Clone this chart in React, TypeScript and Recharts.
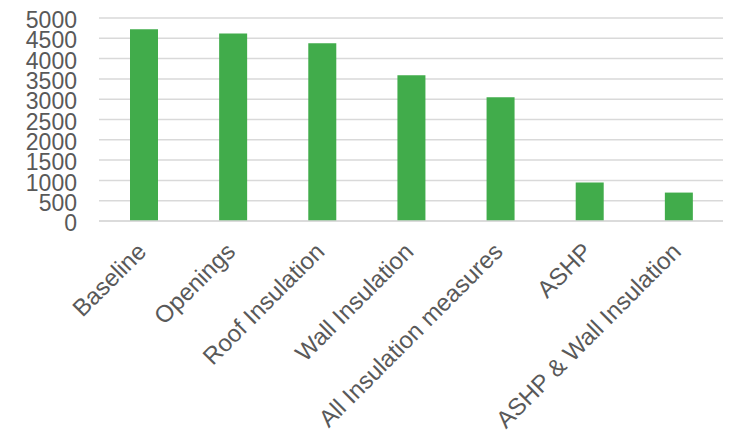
import React from 'react';
import { BarChart, Bar, XAxis, YAxis, CartesianGrid } from 'recharts';

const categories = [
  'Baseline',
  'Openings',
  'Roof Insulation',
  'Wall Insulation',
  'All Insulation measures',
  'ASHP',
  'ASHP & Wall Insulation',
];
const values = [4720, 4620, 4380, 3590, 3050, 950, 700];
const yTicks = [0, 500, 1000, 1500, 2000, 2500, 3000, 3500, 4000, 4500, 5000];

const data = categories.map((name, i) => ({ name, value: values[i] }));

const FONT = '"Liberation Sans", Arial, sans-serif';
const TEXT = '#595959';

function RotatedTick(props: any) {
  const { x, y, payload } = props;
  return (
    <g transform={`translate(${x + 4},${y + 32})`}>
      <text
        x={0}
        y={0}
        textAnchor="end"
        transform="rotate(-45)"
        fill={TEXT}
        fontSize={24}
        fontFamily={FONT}
      >
        {payload.value}
      </text>
    </g>
  );
}

export default function App() {
  return (
    <div style={{ position: 'absolute', left: 0, top: 0, background: '#fff' }}>
      <BarChart
        width={736}
        height={432}
        data={data}
        margin={{ top: 18, right: 13, left: 0, bottom: 0 }}
        barSize={28}
      >
        <CartesianGrid vertical={false} stroke="#d9d9d9" strokeWidth={1.5} />
        <XAxis
          dataKey="name"
          interval={0}
          height={211}
          tickLine={false}
          axisLine={{ stroke: '#d9d9d9', strokeWidth: 1.5 }}
          tickSize={0}
          tickMargin={0}
          tick={<RotatedTick />}
        />
        <YAxis
          width={99}
          domain={[0, 5000]}
          ticks={yTicks}
          interval={0}
          tickLine={false}
          axisLine={false}
          tickSize={0}
          tickMargin={22}
          tick={{ fill: TEXT, fontSize: 23, fontFamily: FONT, dy: 2 }}
        />
        <Bar dataKey="value" fill="#41ac4b" isAnimationActive={false} />
      </BarChart>
    </div>
  );
}
